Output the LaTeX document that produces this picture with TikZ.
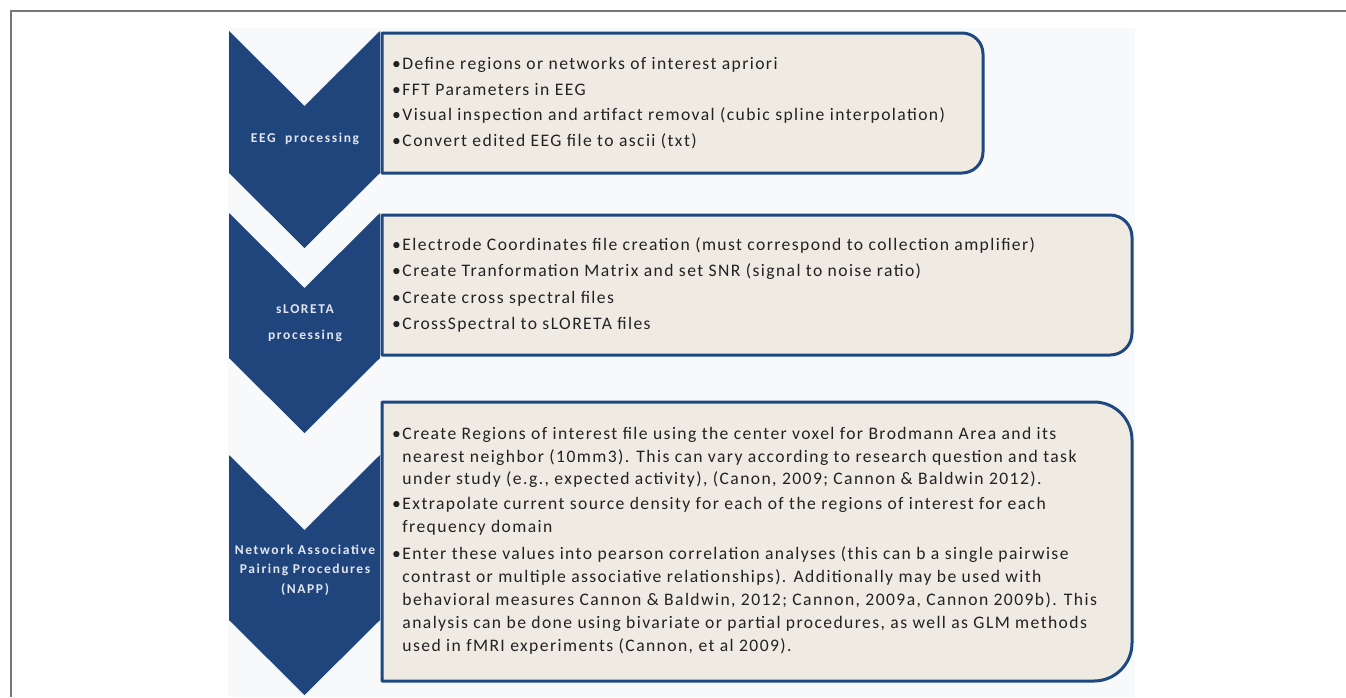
\documentclass[tikz,border=0pt]{standalone}
\usepackage{fontspec}
\setmainfont{Carlito}
\newfontfamily\bodyfont[LetterSpace=8]{Carlito}
\newfontfamily\labfont[LetterSpace=12]{Carlito}
\definecolor{chev}{RGB}{32,68,124}
\definecolor{boxfill}{RGB}{239,235,226}
\definecolor{boxline}{RGB}{30,72,130}
\definecolor{bgcol}{RGB}{248,249,250}
\definecolor{framecol}{RGB}{120,120,120}
\definecolor{txt}{RGB}{34,34,34}
\definecolor{labtxt}{RGB}{226,230,238}
\newcommand{\bul}{•\hspace{1.5pt}}
\newcommand{\cont}{\phantom{•\hspace{1.5pt}}}
\tikzset{
  chevron/.style={fill=chev},
  textbox/.style={fill=boxfill, draw=boxline, line width=3pt, line join=round},
  body/.style={anchor=base west, inner sep=0pt, font=\bodyfont\fontsize{17.6}{20}\selectfont, text=txt},
  lab/.style={anchor=center, inner sep=0pt, align=center, text=labtxt}
}
\begin{document}
\begin{tikzpicture}[x=1pt,y=-1pt]
\useasboundingbox (0,0) rectangle (1346,697);
\fill[white] (0,0) rectangle (1346,697);
\draw[framecol, line width=1.5pt] (11,697) -- (11,11) -- (1346,11);
\fill[bgcol] (228,28) rectangle (1135,697);

% text boxes
\path[textbox] (382,33) -- (962,33) arc(-90:0:21) -- (983,152) arc(0:90:21) -- (382,173) -- cycle;
\path[textbox] (382,215) -- (1110,215) arc(-90:0:22) -- (1132,333) arc(0:90:22) -- (382,355) -- cycle;
\path[textbox] (382,402) -- (1094,402) arc(-90:0:38) -- (1132,643) arc(0:90:38) -- (382,681) -- cycle;

% chevrons
\fill[chevron] (229,31) -- (304.5,106) -- (380,31) -- (380,173) -- (304.5,248) -- (229,173) -- cycle;
\fill[chevron] (229,213) -- (304.5,288) -- (380,213) -- (380,358) -- (304.5,433) -- (229,358) -- cycle;
\fill[chevron] (229,455) -- (304.5,530) -- (380,455) -- (380,620) -- (304.5,695) -- (229,620) -- cycle;

% chevron labels
\node[lab, font=\labfont\bfseries\fontsize{13.5}{19}\selectfont] (c1) at (305,139) {EEG\ \ processing};
\node[lab, font=\labfont\bfseries\fontsize{13.5}{26}\selectfont] (c2) at (305,323) {sLORETA\\processing};
\node[lab, font=\labfont\bfseries\fontsize{13.5}{19.5}\selectfont] (c3) at (305,570) {Network Associative\\Pairing Procedures\\(NAPP)};

% box 1
\node[body] (a1) at (392,69) {\bul Define regions or networks of interest apriori};
\node[body] (a2) at (392,95) {\bul FFT Parameters in EEG};
\node[body] (a3) at (392,120.5) {\bul Visual inspection and artifact removal (cubic spline interpolation)};
\node[body] (a4) at (392,146) {\bul Convert edited EEG file to ascii (txt)};

% box 2
\node[body] (b1) at (392,250) {\bul Electrode Coordinates file creation (must correspond to collection amplifier)};
\node[body] (b2) at (392,276.5) {\bul Create Tranformation Matrix and set SNR (signal to noise ratio)};
\node[body] (b3) at (392,303) {\bul Create cross spectral files};
\node[body] (b4) at (392,329.5) {\bul CrossSpectral to sLORETA files};

% box 3
\node[body] (d1) at (392,439.5) {\bul Create Regions of interest file using the center voxel for Brodmann Area and its};
\node[body] (d2) at (392,462) {\cont nearest neighbor (10mm3). This can vary according to research question and task};
\node[body] (d3) at (392,484) {\cont under study (e.g., expected activity), (Canon, 2009; Cannon \& Baldwin 2012).};
\node[body] (d4) at (392,509) {\bul Extrapolate current source density for each of the regions of interest for each};
\node[body] (d5) at (392,532) {\cont frequency domain};
\node[body] (d6) at (392,559.5) {\bul Enter these values into pearson correlation analyses (this can b a single pairwise};
\node[body] (d7) at (392,582.5) {\cont contrast or multiple associative relationships). Additionally may be used with};
\node[body] (d8) at (392,605.5) {\cont behavioral measures Cannon \& Baldwin, 2012; Cannon, 2009a, Cannon 2009b). This};
\node[body] (d9) at (392,628) {\cont analysis can be done using bivariate or partial procedures, as well as GLM methods};
\node[body] (d10) at (392,651.5) {\cont used in fMRI experiments (Cannon, et al 2009).};
\end{tikzpicture}
\end{document}
